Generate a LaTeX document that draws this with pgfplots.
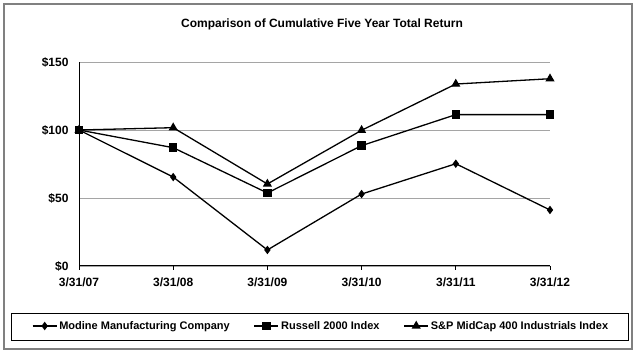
\documentclass[border=0pt]{standalone}
\usepackage{fontspec}
\setmainfont{Liberation Sans}
\usepackage{pgfplots}
\pgfplotsset{compat=1.18}
\definecolor{framegray}{RGB}{128,128,128}
\definecolor{gridgray}{RGB}{165,165,165}
\begin{document}
\begin{tikzpicture}[x=1pt,y=1pt]
\useasboundingbox (0,0) rectangle (637,353);
\fill[white] (0,0) rectangle (637,353);
\draw[framegray, line width=1.8pt] (4,4) rectangle (632,349);
\draw[black, line width=0.8pt] (11,13) rectangle (628,40);
\node[font=\fontsize{12}{14}\selectfont\bfseries] at (322,329) {Comparison of Cumulative Five Year Total Return};
\begin{axis}[
  at={(79pt,87pt)}, anchor=south west,
  scale only axis, width=471pt, height=204pt,
  xmin=0, xmax=5, ymin=0, ymax=150,
  axis x line*=bottom, axis y line*=left,
  axis line style={-, line width=1pt, black},
  xtick={0,1,2,3,4,5},
  xticklabels={3/31/07,3/31/08,3/31/09,3/31/10,3/31/11,3/31/12},
  ytick={0,50,100,150},
  yticklabels={\$0,\$50,\$100,\$150},
  xmajorgrids=false, ymajorgrids=true, grid style={gridgray, line width=0.8pt},
  tick align=outside,
  major tick length=4pt,
  xtick style={black, line width=0.8pt},
  ytick style={draw=none},
  ticklabel style={font=\fontsize{12}{14}\selectfont\bfseries},
  yticklabel style={xshift=-3pt},
  xticklabel style={yshift=-4pt},
  clip=false,
  legend columns=3,
  legend style={at={(0.514,-0.294)}, anchor=center, draw=none, fill=none,
    font=\fontsize{11}{13}\selectfont\bfseries,
    /tikz/every even column/.append style={column sep=22pt}},
  legend image code/.code={
    \draw[#1, mark repeat=2, mark phase=2] plot coordinates {(0pt,0pt) (12pt,0pt) (24pt,0pt)};
  },
]
\addplot[black, line width=1.3pt, mark=diamond*, mark size=3.2pt, mark options={solid}]
  coordinates {(0,100) (1,65.4) (2,11.8) (3,52.9) (4,75.2) (5,41.2)};
\addlegendentry{Modine Manufacturing Company}
\addplot[black, line width=1.3pt, mark=square*, mark size=3.6pt, mark options={solid}]
  coordinates {(0,100) (1,87) (2,53.7) (3,88.5) (4,111.3) (5,111.3)};
\addlegendentry{Russell 2000 Index}
\addplot[black, line width=1.3pt, mark=triangle*, mark size=4pt, mark options={solid}]
  coordinates {(0,100) (1,101.7) (2,60.3) (3,99.8) (4,133.8) (5,137.7)};
\addlegendentry{S\&P MidCap 400 Industrials Index}
\end{axis}
\end{tikzpicture}
\end{document}
